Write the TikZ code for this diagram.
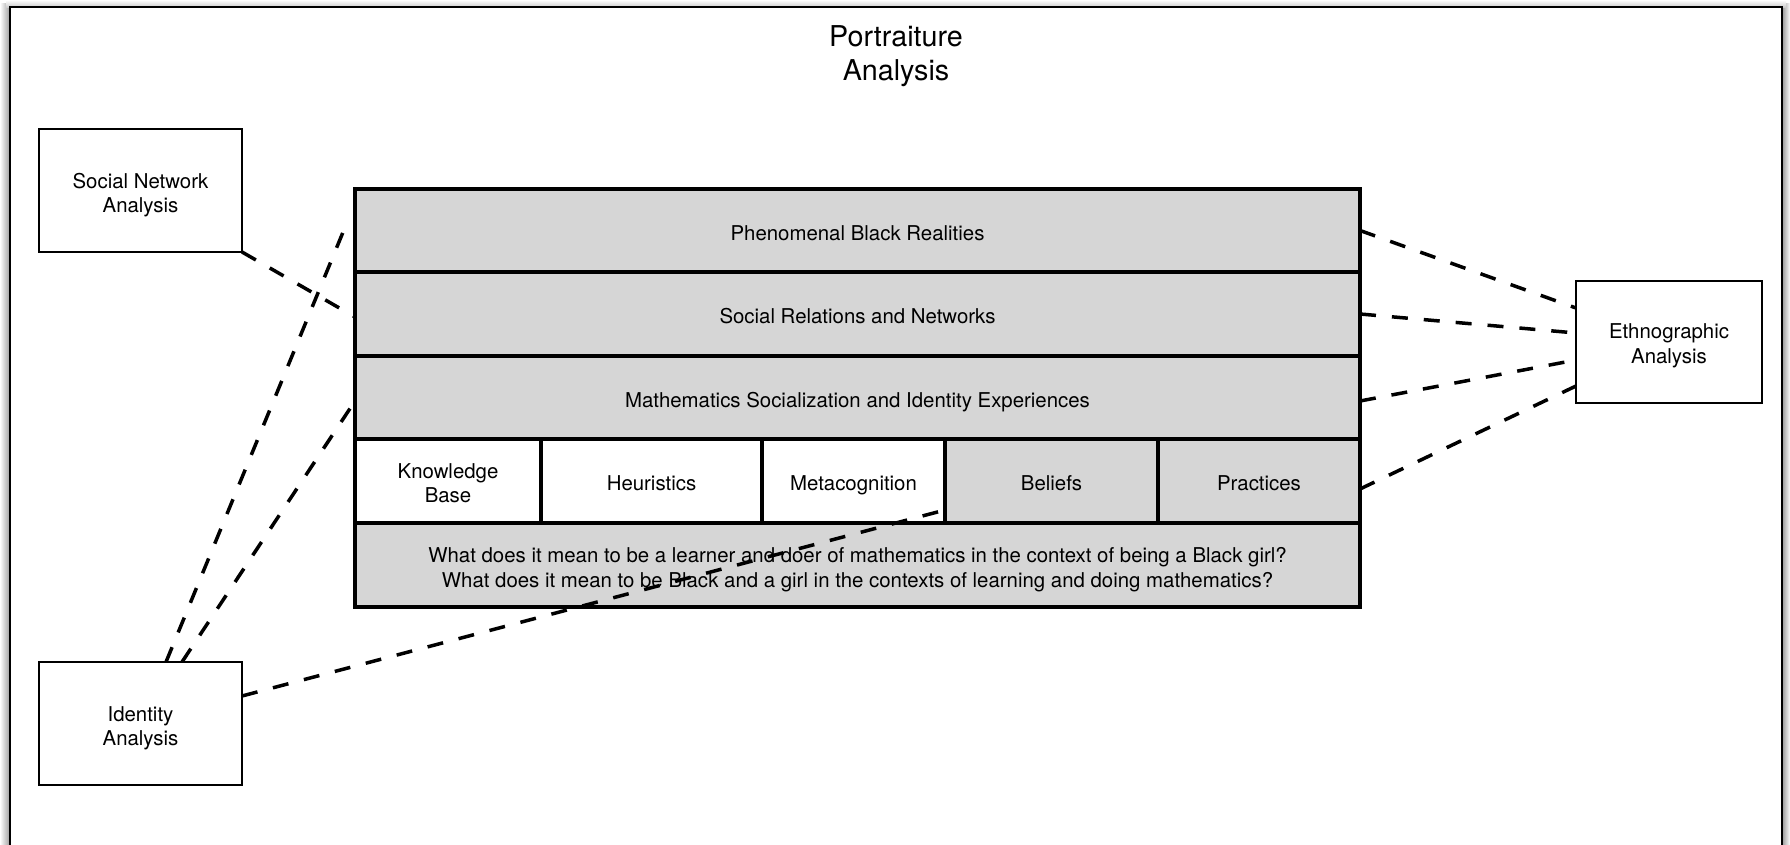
\documentclass[tikz,border=0pt]{standalone}
\usepackage{fontspec}
\setmainfont{TeX Gyre Heros}
\usetikzlibrary{calc}
\definecolor{cellgray}{HTML}{D6D6D6}
\tikzset{
  every node/.style={font=\fontsize{20.4}{24.5}\selectfont},
  cell/.style={draw=black, line width=3.5pt, fill=cellgray, outer sep=0pt, inner sep=0pt, align=center},
  whitecell/.style={cell, fill=white},
  oneline/.style={text height=23.7pt, text depth=4.2pt},
  sidebox/.style={draw=black, line width=1.8pt, fill=white, outer sep=0pt, inner sep=0pt, align=center},
  txt/.style={align=center, inner sep=0pt},
  link/.style={draw=black, line width=3.5pt, dash pattern=on 16pt off 16pt},
}
\begin{document}
\begin{tikzpicture}[x=1pt,y=-1pt]
\useasboundingbox (0,0) rectangle (1790,845);
% frame with soft shadow
\shade[left color=white, right color=black!40] (0,4) rectangle (10.3,845);
\shade[left color=black!40, right color=white] (1782,4) rectangle (1790,845);
\shade[top color=white, bottom color=black!20] (6,0) rectangle (1786,7.3);
\fill[white] (10.3,7.3) rectangle (1782,845);
\draw[line width=2pt] (10.3,845) -- (10.3,7.3) -- (1782,7.3) -- (1782,845);

% title
\node[font=\fontsize{28.7}{34}\selectfont, align=center] (title) at (896,56.3) {Portraiture\\Analysis};

% central stack
\node[cell, oneline, minimum width=1005pt, minimum height=83pt] (phen) at (857.5,230.5) {Phenomenal Black Realities};
\node[cell, oneline, minimum width=1005pt, minimum height=84pt] (rel) at (857.5,314) {Social Relations and Networks};
\node[cell, oneline, minimum width=1005pt, minimum height=83pt] (math) at (857.5,397.5) {Mathematics Socialization and Identity Experiences};
\node[whitecell, minimum width=186pt, minimum height=84pt,
  label={[txt, yshift=-2.3pt]center:Knowledge\\Base}] (kb) at (448,481) {};
\node[whitecell, oneline, minimum width=221pt, minimum height=84pt] (heur) at (651.5,481) {Heuristics};
\node[whitecell, oneline, minimum width=183pt, minimum height=84pt] (meta) at (853.5,481) {Metacognition};
\node[cell, oneline, minimum width=213pt, minimum height=84pt] (bel) at (1051.5,481) {Beliefs};
\node[cell, oneline, minimum width=202pt, minimum height=84pt] (prac) at (1259,481) {Practices};
\node[cell, minimum width=1005pt, minimum height=84pt,
  label={[txt, yshift=-4.6pt]center:What does it mean to be a learner and doer of mathematics in the context of being a Black girl?\\What does it mean to be Black and a girl in the contexts of learning and doing mathematics?}] (quest) at (857.5,565) {};

% side boxes
\node[sidebox, minimum width=203pt, minimum height=123pt,
  label={[txt, yshift=-4.6pt]center:Social Network\\Analysis}] (sna) at (140.5,190.5) {};
\node[sidebox, minimum width=203pt, minimum height=123pt,
  label={[txt, yshift=-4.6pt]center:Identity\\Analysis}] (ida) at (140.5,723.5) {};
\node[sidebox, minimum width=186pt, minimum height=122pt,
  label={[txt, yshift=-4pt]center:Ethnographic\\Analysis}] (eth) at (1669,342) {};

% connectors
\draw[link] (sna.south east) -- ($(rel.west)+(0,3)$);
\draw[link] ($(ida.north)+(25.5,0)$) -- ($(phen.west)+(-8,-8)$);
\draw[link] ($(ida.north)+(41.5,0)$) -- ($(math.west)+(0,3.5)$);
\draw[link] ($(ida.north east)+(0,34)$) -- ($(bel.south west)+(0,-13)$);
\draw[link] (phen.east) -- ($(eth.north west)+(0,27)$);
\draw[link] (rel.east) -- ($(eth.north west)+(0,52)$);
\draw[link] ($(math.east)+(0,3.5)$) -- ($(eth.north west)+(0,79)$);
\draw[link] ($(prac.east)+(0,8)$) -- ($(eth.north west)+(0,105)$);
\end{tikzpicture}
\end{document}
